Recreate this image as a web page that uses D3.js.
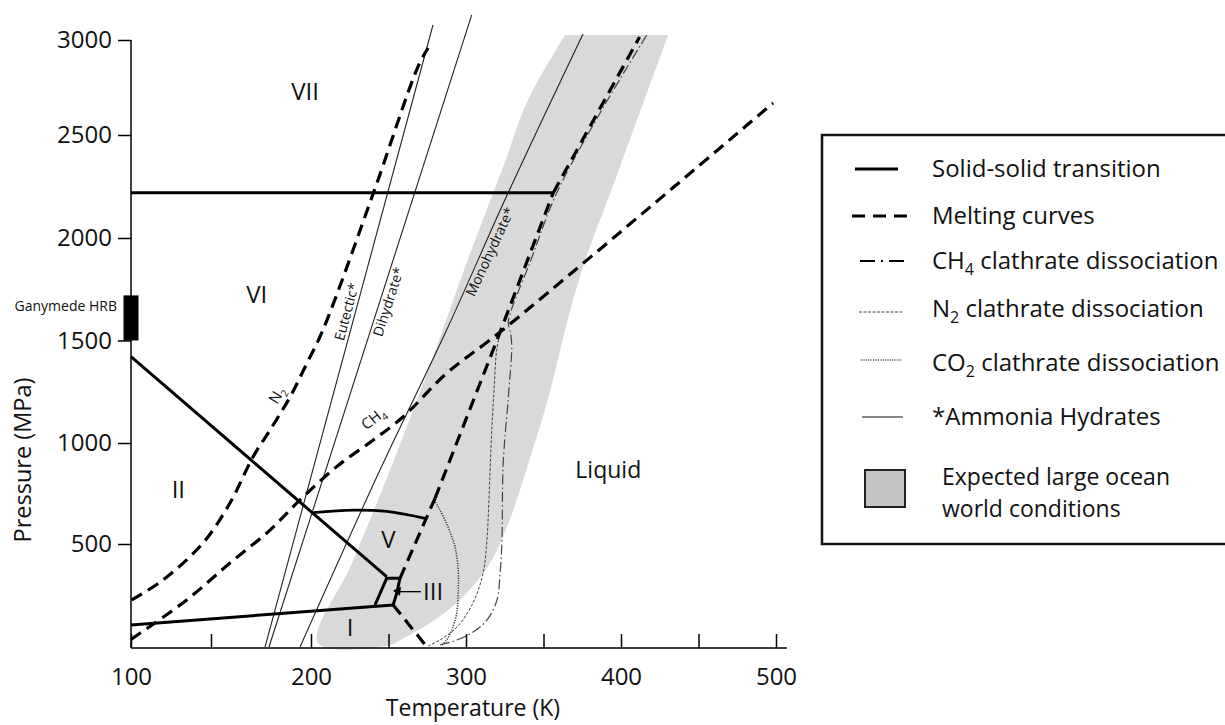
<!DOCTYPE html>
<html>
<head>
<meta charset="utf-8">
<script src="https://cdn.jsdelivr.net/npm/d3@7/dist/d3.min.js"></script>
<style>
html,body{margin:0;padding:0;background:#fff;}
svg{display:block;}
text{font-family:"Open Sans","Noto Sans",sans-serif;fill:#111;}
</style>
</head>
<body>
<svg id="chart" width="1225" height="725"></svg>
<script>
// ---------------- axis ticks ----------------
const xTickValues = [100,150,200,250,300,350,400,450,500];
const xTickLabels = ["100","","200","","300","","400","","500"];
const yTickValues = [500,1000,1500,2000,2500,3000];
const yTickLabels = ["500","1000","1500","2000","2500","3000"];

// ---------------- solid-solid transitions [T (K), P (MPa)] ----------------
const iceVI_VII = [[100,2220],[356.3,2220]];
const iceII_VI  = [[100,1421],[248.8,338]];
const iceI_II   = [[100,99],[253,198]];
const iceV_VI   = [[201.5,655],[227,668],[249,661],[273.5,627]];
const iceIII    = [[241.3,198],[248.8,330],[257.4,330],[255.3,256],[253,198]];

// ---------------- melting curves ----------------
const meltIh  = [[253,198],[274.6,-8]];
const meltV   = [[257.4,330],[280,726]];
const meltVI  = [[280,726],[322,1541],[356.3,2220]];
const meltVII = [[356.3,2220],[412,3016]];
const meltN2  = [[100.4,223],[120,322],[145,505],[159.5,703],[171,931],[179.5,1063],[189.5,1224],[198,1390],[207.7,1551],[240.2,2217],[269,2859],[275.5,2958]];
const meltCH4 = [[100,28],[105.6,58],[134.8,223],[159.5,406],[179.5,569],[194.5,718],[216.6,883],[240.2,1015],[259.5,1128],[287.5,1340],[322,1541],[498.1,2668]];

// ---------------- clathrate dissociation ----------------
const clathCH4 = [[283.2,0],[294.2,25],[304.5,64],[313.6,124],[320,223],[322,356],[323.2,520],[324,901],[327.3,1224],[329.5,1478],[328.4,1551],[327.3,1590],[341.9,1893],[358.5,2218],[386.5,2616],[416.6,3026]];
const clathN2  = [[275.5,-5],[283.2,25],[294.2,89],[304.5,208],[311,356],[313.5,520],[314.8,718],[316.6,1063],[318.1,1259],[319.8,1454],[322,1537]];
const clathCO2 = [[279.5,718],[283.2,668],[287.5,602],[290.8,536],[292.9,487],[295,371],[295,272],[294,157],[290.8,74],[287.5,25],[284.3,0]];

// ---------------- ammonia hydrates ----------------
const eutectic    = [[177,-10],[278.7,3079]];
const dihydrate   = [[179,-10],[303.7,3132]];
const monohydrate = [[194.5,-10],[244.5,866],[287.5,1551],[327.1,2218],[375.5,3032]];

// ---------------- expected large ocean world conditions ----------------
const oceanBand = [[363.9,3026],[340,2684],[323.9,2345],[299.4,1859],[276.8,1380],[251,866],[226.5,406],[204.5,10],
  [251,0],[257.4,25],[276.8,109],[298,238],[315.5,406],[326.4,584],[334.8,767],[341.9,940],[349,1112],[356.1,1307],[363.9,1551],[375.5,1859],[399.4,2345],[430.4,3026]];

// Ganymede high-pressure ice range
const ganymedeHRB = [1500,1720];

// region labels [text, T, P]
const phaseLabels = [["VII",197,2728],["VI",172.9,1722],["II",129.6,767],["V",249.9,520],["I",225.2,84],["Liquid",391.8,866]];
// curve labels [text, T, P, angle]
const curveLabels = [["Eutectic*",223,1640,-75],["Dihydrate*",249.9,1689,-72],["Monohydrate*",315.5,1933,-65]];

const legendLabels = [
  ["Solid-solid transition"],
  ["Melting curves"],
  ["CH","4"," clathrate dissociation"],
  ["N","2"," clathrate dissociation"],
  ["CO","2"," clathrate dissociation"],
  ["*Ammonia Hydrates"],
  ["Expected large ocean"],
  ["world conditions"]
];

// ================= drawing =================
const svg = d3.select("#chart");
const x = d3.scaleLinear().domain([100,150,200,500]).range([131,211,311,776]);
const y = d3.scaleLinear().domain([0,1000,2000,2500,3000]).range([645,443,238,135,40]);

const lin = d3.line().x(d=>x(d[0])).y(d=>y(d[1]));
const smooth = d3.line().x(d=>x(d[0])).y(d=>y(d[1])).curve(d3.curveCatmullRom.alpha(0.5));

// ocean band
svg.append("path").attr("d", smooth(oceanBand)+"Z").attr("fill","#d9d9d9");

// ammonia hydrates
[eutectic, dihydrate].forEach(d=>svg.append("path").attr("d",lin(d)).attr("fill","none").attr("stroke","#222").attr("stroke-width",1.1));
svg.append("path").attr("d",smooth(monohydrate)).attr("fill","none").attr("stroke","#222").attr("stroke-width",1.1);

// clathrates
svg.append("path").attr("d",smooth(clathCO2)).attr("fill","none").attr("stroke","#444").attr("stroke-width",1.6).attr("stroke-dasharray","1.2,1.3");
svg.append("path").attr("d",smooth(clathN2)).attr("fill","none").attr("stroke","#444").attr("stroke-width",1).attr("stroke-dasharray","3,1.6");
svg.append("path").attr("d",smooth(clathCH4)).attr("fill","none").attr("stroke","#444").attr("stroke-width",1.2).attr("stroke-dasharray","10,3,1.5,3");

// melting curves
const dash = "12,7";
[meltIh, meltV, meltVI, meltVII].forEach(d=>svg.append("path").attr("d",lin(d)).attr("fill","none").attr("stroke","#000").attr("stroke-width",3.2).attr("stroke-dasharray",dash));
[meltN2, meltCH4].forEach(d=>svg.append("path").attr("d",smooth(d)).attr("fill","none").attr("stroke","#000").attr("stroke-width",3.2).attr("stroke-dasharray",dash));

// solid-solid
[iceVI_VII, iceII_VI, iceI_II, iceIII].forEach(d=>svg.append("path").attr("d",lin(d)).attr("fill","none").attr("stroke","#000").attr("stroke-width",3).attr("stroke-linejoin","miter"));
svg.append("path").attr("d",smooth(iceV_VI)).attr("fill","none").attr("stroke","#000").attr("stroke-width",2.8);

// axes
const x0 = x(100), yBase = y(-15);
const gx = svg.append("g").attr("transform",`translate(0,${yBase})`)
  .call(d3.axisBottom(x).tickValues(xTickValues).tickFormat((d,i)=>xTickLabels[i]).tickSizeInner(-14).tickSizeOuter(0).tickPadding(20));
gx.select(".domain").remove();
gx.selectAll("line").attr("stroke","#000").attr("stroke-width",1.5);
gx.selectAll("text").attr("font-size",24).attr("font-family",null);

const gy = svg.append("g").attr("transform",`translate(${x0},0)`)
  .call(d3.axisLeft(y).tickValues(yTickValues).tickFormat((d,i)=>yTickLabels[i]).tickSizeInner(13).tickSizeOuter(0).tickPadding(6));
gy.select(".domain").remove();
gy.selectAll("line").attr("stroke","#000").attr("stroke-width",1.5);
gy.selectAll("text").attr("font-size",24).attr("font-family",null);

svg.append("line").attr("x1",x0).attr("x2",x(507)).attr("y1",yBase).attr("y2",yBase).attr("stroke","#000").attr("stroke-width",1.5);
svg.append("line").attr("x1",x0).attr("x2",x0).attr("y1",yBase).attr("y2",y(3000)).attr("stroke","#000").attr("stroke-width",1.5);

// axis titles
svg.append("text").attr("x",473).attr("y",716).attr("text-anchor","middle").attr("font-size",23).text("Temperature (K)");
svg.append("text").attr("transform","translate(31,460) rotate(-90)").attr("text-anchor","middle").attr("font-size",23.5).text("Pressure (MPa)");

// Ganymede HRB
svg.append("rect").attr("x",x0-7.5).attr("width",15).attr("y",y(ganymedeHRB[1])).attr("height",y(ganymedeHRB[0])-y(ganymedeHRB[1])).attr("fill","#000");
svg.append("text").attr("x",x0-14).attr("y",y(1668)).attr("dy","0.35em").attr("text-anchor","end").attr("font-size",14).text("Ganymede HRB");

// phase labels
phaseLabels.forEach(([t,T,P])=>svg.append("text").attr("x",x(T)).attr("y",y(P)).attr("dy","0.35em").attr("text-anchor","middle").attr("font-size",t==="Liquid"?23:24).text(t));

// III with arrow
const ax = x(271.6), ay = y(264);
svg.append("text").attr("x",ax+1).attr("y",ay).attr("dy","0.35em").attr("font-size",24).text("III");
svg.append("line").attr("x1",ax-1).attr("x2",ax-24).attr("y1",ay).attr("y2",ay).attr("stroke","#000").attr("stroke-width",1.3);
svg.append("path").attr("d",`M${ax-29},${ay-1} L${ax-21},${ay-5} L${ax-22},${ay+4} Z`).attr("fill","#000");

// curve labels
curveLabels.forEach(([t,T,P,a])=>svg.append("text").attr("transform",`translate(${x(T)},${y(P)}) rotate(${a})`)
  .attr("text-anchor","middle").attr("dy","0.35em").attr("font-size",14).attr("fill","#222").text(t));

// N2 and CH4 labels
const n2 = svg.append("text").attr("transform",`translate(${x(182.9)},${y(1234)}) rotate(-59)`).attr("text-anchor","middle").attr("dy","0.35em").attr("font-size",15).attr("fill","#222");
n2.append("tspan").text("N"); n2.append("tspan").attr("font-size",10).attr("dy",4).text("2");
const ch4 = svg.append("text").attr("transform",`translate(${x(240.2)},${y(1120)}) rotate(-38)`).attr("text-anchor","middle").attr("dy","0.35em").attr("font-size",15).attr("fill","#222");
ch4.append("tspan").text("CH"); ch4.append("tspan").attr("font-size",10).attr("dy",4).text("4");

// ---------------- legend ----------------
const lg = svg.append("g");
lg.append("rect").attr("x",822).attr("y",135).attr("width",430).attr("height",409).attr("fill","#fff").attr("stroke","#111").attr("stroke-width",2.5);
const rowY = [169,216,261,309,363,417,477,509];
const sampleStyles = [
  {x1:855,x2:898,w:3,dash:null,c:"#000"},
  {x1:852,x2:907,w:3,dash:"13,8",c:"#000"},
  {x1:860,x2:905,w:2.2,dash:"15,6,2,6",c:"#000"},
  {x1:859,x2:902,w:1,dash:"3,1.5",c:"#444",dy:3},
  {x1:861,x2:902,w:1.5,dash:"1.2,1.2",c:"#555",dy:-3},
  {x1:862,x2:903,w:1.2,dash:null,c:"#111"}
];
sampleStyles.forEach((s,i)=>{
  lg.append("line").attr("x1",s.x1).attr("x2",s.x2).attr("y1",rowY[i]+(s.dy||0)).attr("y2",rowY[i]+(s.dy||0))
    .attr("stroke",s.c).attr("stroke-width",s.w).attr("stroke-dasharray",s.dash);
});
lg.append("rect").attr("x",865).attr("y",470).attr("width",40).attr("height",37).attr("fill","#c4c4c4").attr("stroke","#222").attr("stroke-width",2);
legendLabels.forEach((parts,i)=>{
  const t = lg.append("text").attr("x",i>=6?942:932).attr("y",rowY[i]).attr("dy","0.35em").attr("font-size",i>=6?23:24);
  t.append("tspan").text(parts[0]);
  if(parts.length>1){
    t.append("tspan").attr("font-size",16).attr("dy",6).text(parts[1]);
    t.append("tspan").attr("dy",-6).text(parts[2]);
  }
});
</script>
</body>
</html>
